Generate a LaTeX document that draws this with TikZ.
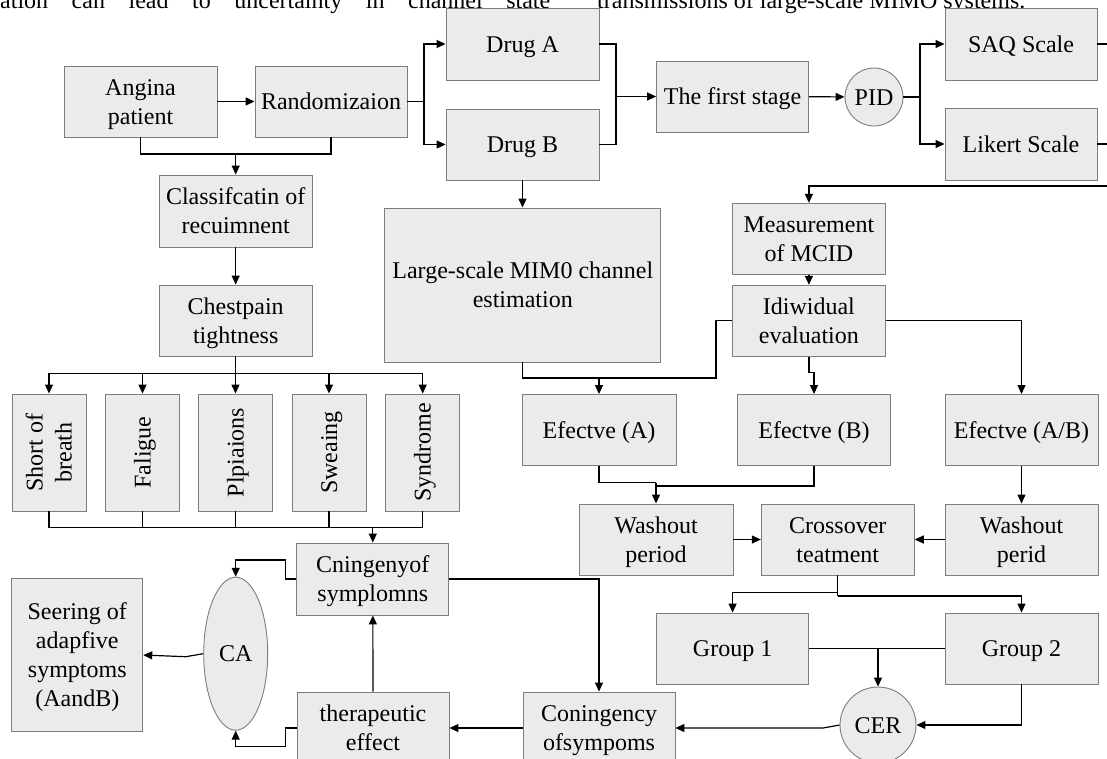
\documentclass[tikz,border=0pt]{standalone}
\usepackage{fontspec}
\setmainfont{Liberation Serif}
\usetikzlibrary{arrows.meta,shapes.geometric}
\definecolor{boxfill}{RGB}{235,235,235}
\definecolor{boxedge}{RGB}{125,125,125}
\newcommand\mlines[1]{\begin{tabular}[b]{@{}c@{}}#1\end{tabular}}
\begin{document}
\begin{tikzpicture}[x=1pt,y=-1pt,
  box/.style={draw=boxedge,fill=boxfill,line width=0.9pt,inner sep=0pt,font=\fontsize{24}{29}\selectfont},
  one/.style={text height=16pt,text depth=0pt},
  two/.style={text height=45pt,text depth=0pt},
  four/.style={text height=103pt,text depth=0pt},
  circ/.style={box,circle,one},
  con/.style={line width=1.2pt,black},
  arr/.style={con,-{Triangle[length=9pt,width=8pt]}},
  toptext/.style={anchor=base west,inner sep=0pt,font=\fontsize{24}{29}\selectfont}]
\useasboundingbox (0,0) rectangle (1107,758);
\clip (0,0) rectangle (1107,758);
% clipped text of the page above
\node[toptext] (t1) at (0,8) {\makebox[550pt][s]{ation can lead to uncertainty in channel state}};
\node[toptext] (t2) at (597,8) {transmissions of large-scale MIMO systems.};
% top row
\node[box,two,minimum width=153pt,minimum height=71pt] (angina) at (140.5,101.5) {\mlines{Angina\\patient}};
\node[box,one,minimum width=152pt,minimum height=71pt] (rand) at (331,101.5) {Randomizaion};
\node[box,one,minimum width=153pt,minimum height=72pt] (druga) at (522.5,44) {Drug A};
\node[box,one,minimum width=153pt,minimum height=71pt] (drugb) at (522.5,144.5) {Drug B};
\node[box,one,minimum width=152pt,minimum height=71pt] (first) at (732.6,96.5) {The first stage};
\node[circ,minimum size=58pt] (pid) at (874,97) {PID};
\node[box,one,minimum width=152pt,minimum height=72pt] (saq) at (1021,44) {SAQ Scale};
\node[box,one,minimum width=152pt,minimum height=72pt] (likert) at (1021,144) {Likert Scale};
% left column
\node[box,two,minimum width=153pt,minimum height=72pt] (classif) at (235.7,211) {\mlines{Classifcatin of\\recuimnent}};
\node[box,two,minimum width=153pt,minimum height=71pt] (chest) at (235.7,320.5) {\mlines{Chestpain\\tightness}};
\node[box,two,rotate=90,minimum width=117pt,minimum height=74pt] (v1) at (49,452.5) {\mlines{Short of\\breath}};
\node[box,one,rotate=90,minimum width=117pt,minimum height=74pt] (v2) at (142.5,452.5) {Faligue};
\node[box,one,rotate=90,minimum width=117pt,minimum height=74pt] (v3) at (235.5,452.5) {Plpiaions};
\node[box,one,rotate=90,minimum width=117pt,minimum height=74pt] (v4) at (329,452.5) {Sweaing};
\node[box,one,rotate=90,minimum width=117pt,minimum height=74pt] (v5) at (422.7,452.5) {Syndrome};
\node[box,two,minimum width=152pt,minimum height=72pt] (cning) at (372.8,579) {\mlines{Cningenyof\\symplomns}};
\node[box,two,minimum width=152pt,minimum height=72pt] (ther) at (373,728) {\mlines{therapeutic\\effect}};
\node[box,two,minimum width=152pt,minimum height=72pt] (coning) at (599,728) {\mlines{Coningency\\ofsympoms}};
\node[box,four,minimum width=131pt,minimum height=153pt] (seering) at (77.3,655) {\mlines{Seering of\\adapfive\\symptoms\\(AandB)}};
\node[box,one,ellipse,minimum width=64pt,minimum height=153pt] (ca) at (235.7,653.7) {CA};
% middle / right
\node[box,two,minimum width=276pt,minimum height=154pt] (large) at (522.8,285) {\mlines{Large-scale MIM0 channel\\estimation}};
\node[box,two,minimum width=153pt,minimum height=71pt] (meas) at (808.9,238.8) {\mlines{Measurement\\of MCID}};
\node[box,two,minimum width=153pt,minimum height=71pt] (idi) at (808.9,320.7) {\mlines{Idiwidual\\evaluation}};
\node[box,one,minimum width=154pt,minimum height=71pt] (effa) at (599,430) {Efectve (A)};
\node[box,one,minimum width=153pt,minimum height=71pt] (effb) at (814,430) {Efectve (B)};
\node[box,one,minimum width=153pt,minimum height=71pt] (effab) at (1021.5,430) {Efectve (A/B)};
\node[box,two,minimum width=154pt,minimum height=71pt] (wash1) at (656,539.5) {\mlines{Washout\\period}};
\node[box,two,minimum width=153pt,minimum height=71pt] (cross) at (837.8,539.5) {\mlines{Crossover\\teatment}};
\node[box,two,minimum width=153pt,minimum height=71pt] (wash2) at (1021.5,539.5) {\mlines{Washout\\perid}};
\node[box,one,minimum width=152pt,minimum height=71pt] (g1) at (732.6,648.5) {Group 1};
\node[box,one,minimum width=153pt,minimum height=71pt] (g2) at (1021.5,648.5) {Group 2};
\node[circ,minimum size=76pt] (cer) at (878,725) {CER};
% coordinates
\coordinate (rb) at (424,101.5);
\coordinate (dm) at (616,96.5);
\coordinate (pb) at (920,97);
\coordinate (saqout) at (1110,44);
\coordinate (likout) at (1110,144);
\coordinate (measin) at (1110,186);
\coordinate (am) at (235.7,154);
\coordinate (cb) at (235.7,373.3);
\coordinate (vb) at (372.8,527.7);
\coordinate (ib) at (716,378);
\coordinate (ea) at (599,378);
\coordinate (ib2) at (808.9,372.7);
\coordinate (wa) at (656,482.7);
\coordinate (wb) at (656,486);
\coordinate (c1) at (837.8,592.7);
\coordinate (c2) at (837.8,596);
\coordinate (gm) at (878,648.5);
\coordinate (cbend) at (823,728);
\coordinate (ka) at (285.7,560);
\coordinate (kb) at (285.7,746.7);
\coordinate (sb) at (185.7,656.7);
% connectors top
\draw[arr] (angina) -- (rand);
\draw[con] (rand.east) -- (rb);
\draw[arr] (rb) |- (druga.west);
\draw[arr] (rb) |- (drugb.west);
\draw[con] (druga.east) -| (dm);
\draw[con] (drugb.east) -| (dm);
\draw[arr] (dm) -- (first.west);
\draw[arr] (first) -- (pid);
\draw[con] (pid.east) -- (pb);
\draw[arr] (pb) |- (saq.west);
\draw[arr] (pb) |- (likert.west);
\draw[con] (saq.east) -- (saqout);
\draw[con] (likert.east) -- (likout);
\draw[arr] (measin) -| (meas.north);
\draw[arr] (meas) -- (idi);
% left
\draw[con] (angina.south) |- (am);
\draw[con] (rand.south) |- (am);
\draw[arr] (am) -- (classif.north);
\draw[arr] (classif) -- (chest);
\draw[con] (chest.south) -- (cb);
\foreach \v in {v1,v2,v3,v4,v5} {
  \draw[arr] (cb) -| (\v.east);
  \draw[con] (\v.west) |- (vb);
}
\draw[arr] (vb) -- (cning.north);
% middle
\draw[arr] (drugb.south) -- (drugb.south |- large.north);
\draw[con] (large.south) |- (ib) |- (idi.west);
\draw[arr] (ea) -- (effa.north);
\draw[con] (idi.south) -- (ib2);
\draw[arr] (ib2) -| (effb.north);
\draw[arr] (idi.east) -| (effab.north);
\draw[con] (effa.south) |- (wa);
\draw[con] (effb.south) |- (wb);
\draw[arr] (wa) -- (wash1.north);
\draw[arr] (effab) -- (wash2);
\draw[arr] (wash1) -- (cross);
\draw[arr] (wash2) -- (cross);
\draw[con] (cross.south) -- (c2);
\draw[arr] (c1) -| (g1.north);
\draw[arr] (c2) -| (g2.north);
\draw[con] (g1) -- (g2);
\draw[arr] (gm) -- (cer.north);
\draw[arr] (g2.south) |- (cer.east);
\draw[arr] (cer.west) -- (cbend) -- (coning.east);
% bottom left
\draw[arr] (coning) -- (ther);
\draw[arr] (cning.east) -| (coning.north);
\draw[arr] (ther) -- (cning);
\draw[arr] (cning.west) -| (ka) -| (ca.north);
\draw[arr] (ther.west) -| (kb) -| (ca.south);
\draw[arr] (ca.west) -- (sb) -- (seering.east);
\end{tikzpicture}
\end{document}
